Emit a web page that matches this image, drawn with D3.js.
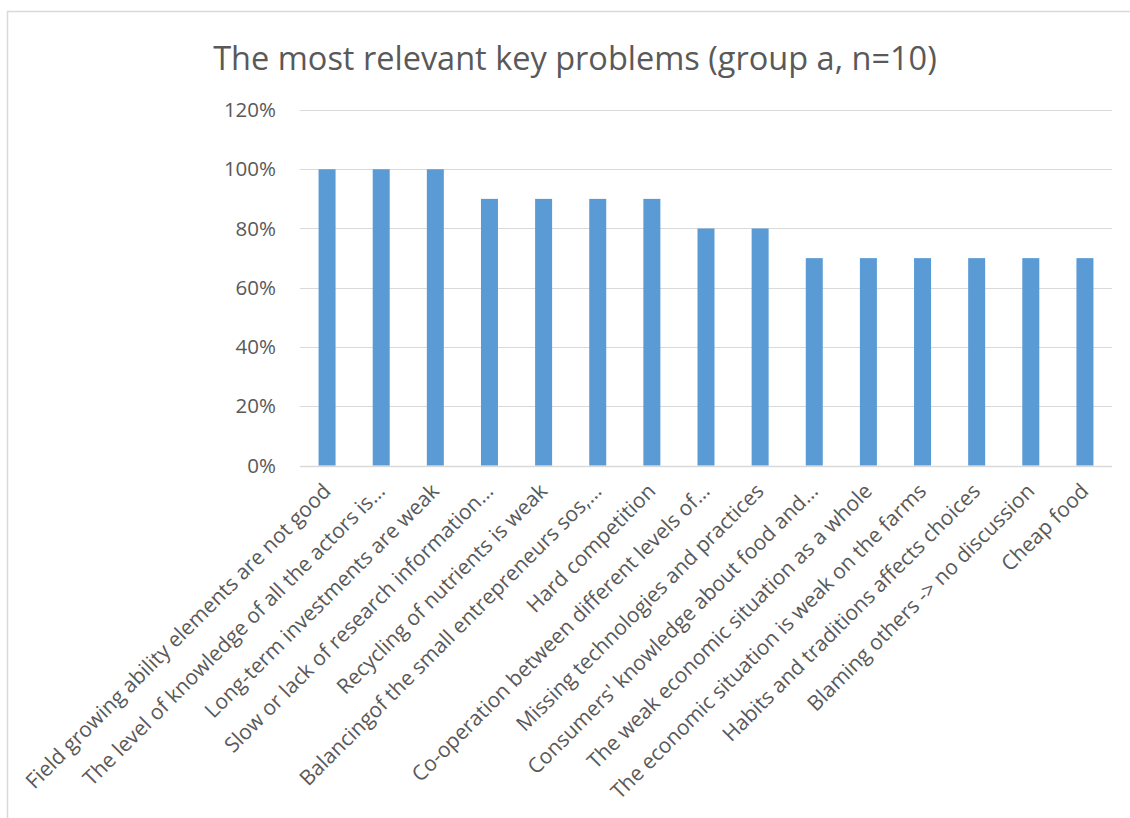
<!DOCTYPE html>
<html>
<head>
<meta charset="utf-8">
<script src="https://cdn.jsdelivr.net/npm/d3@7"></script>
<style>
  html, body { margin: 0; padding: 0; background: #fff; }
  svg { display: block; }
  text { font-family: "Open Sans", "Noto Sans", sans-serif; fill: #595959; }
</style>
</head>
<body>
<svg id="chart" width="1130" height="818"></svg>
<script>
// Share of respondents naming each key problem
const categories = [
  "Field growing ability elements are not good",
  "The level of knowledge of all the actors is…",
  "Long-term investments are weak",
  "Slow or lack of research information…",
  "Recycling of nutrients is weak",
  "Balancingof the small entrepreneurs sos,…",
  "Hard competition",
  "Co-operation between different levels of…",
  "Missing technologies and practices",
  "Consumers' knowledge about food and…",
  "The weak economic situation as a whole",
  "The economic situation is weak on the farms",
  "Habits and traditions affects choices",
  "Blaming others -> no discussion",
  "Cheap food"
];
const values = [1.0, 1.0, 1.0, 0.9, 0.9, 0.9, 0.9, 0.8, 0.8, 0.7, 0.7, 0.7, 0.7, 0.7, 0.7];
const yTicks = [0, 0.2, 0.4, 0.6, 0.8, 1.0, 1.2];
const title = "The most relevant key problems (group a, n=10)";

const svg = d3.select("#chart");

// chart frame
svg.append("rect")
  .attr("x", 7.5).attr("y", 11.5)
  .attr("width", 1140).attr("height", 830)
  .attr("fill", "none").attr("stroke", "#d9d9d9").attr("stroke-width", 1.5);

const plot = { left: 300, right: 1112, top: 110, bottom: 465.5 };

const x = d3.scaleBand()
  .domain(categories)
  .range([plot.left, plot.right])
  .paddingInner(0.686)
  .paddingOuter(0.343);

const y = d3.scaleLinear()
  .domain([0, 1.2])
  .range([plot.bottom, plot.top]);

// title
svg.append("text")
  .attr("x", 575).attr("y", 70)
  .attr("text-anchor", "middle")
  .style("font-size", "32.5px")
  .text(title);

// gridlines
svg.append("g")
  .selectAll("line")
  .data(yTicks)
  .join("line")
  .attr("x1", plot.left).attr("x2", plot.right)
  .attr("y1", d => Math.round(y(d)) + 0.5)
  .attr("y2", d => Math.round(y(d)) + 0.5)
  .attr("stroke", "#d9d9d9").attr("stroke-width", d => d === 0 ? 1.5 : 1.2);

// y axis labels
const yAxis = d3.axisLeft(y)
  .tickValues(yTicks)
  .tickFormat(d3.format(".0%"))
  .tickSize(0)
  .tickPadding(0);
const yg = svg.append("g")
  .attr("transform", `translate(${plot.left - 24},0)`)
  .call(yAxis);
yg.select(".domain").remove();
yg.selectAll("text")
  .style("font-size", "20.5px")
  .style("font-family", null)
  .attr("fill", "#595959");

// bars
svg.append("g")
  .selectAll("rect")
  .data(values)
  .join("rect")
  .attr("x", (d, i) => x(categories[i]))
  .attr("y", d => y(d))
  .attr("width", x.bandwidth())
  .attr("height", d => y(0) - y(d))
  .attr("fill", "#5b9bd5");

// category labels, rotated
const xAxis = d3.axisBottom(x).tickSize(0).tickPadding(0);
const xg = svg.append("g")
  .attr("transform", `translate(0,${plot.bottom})`)
  .call(xAxis);
xg.select(".domain").remove();
xg.selectAll(".tick text")
  .style("font-size", "21px")
  .style("font-family", null)
  .attr("fill", "#595959")
  .attr("text-anchor", "end")
  .attr("dy", null)
  .attr("y", null)
  .attr("transform", "translate(5,27) rotate(-45)");
</script>
</body>
</html>
